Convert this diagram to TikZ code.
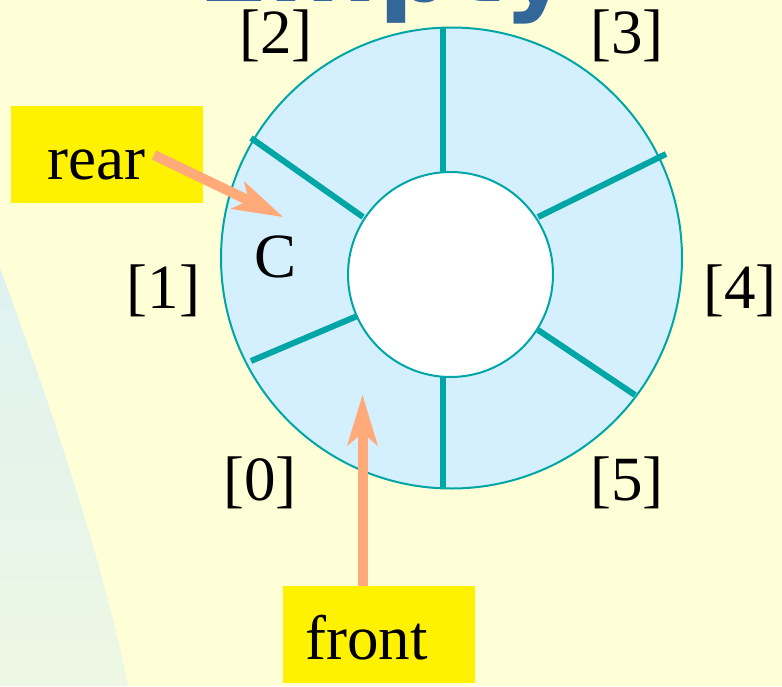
\documentclass[tikz,border=0pt]{standalone}
\usepackage{fontspec}
\setmainfont{Liberation Serif}
\newfontfamily\titlefont{DejaVu Sans}
\usetikzlibrary{arrows.meta}
\definecolor{bgyellow}{HTML}{FFFFD7}
\definecolor{leftA}{HTML}{DFF2F1}
\definecolor{leftB}{HTML}{EDF7E3}
\definecolor{ringfill}{HTML}{D4F0FF}
\definecolor{ringteal}{HTML}{00A6A6}
\definecolor{salmon}{HTML}{FFAA78}
\definecolor{titleblue}{HTML}{336699}
\begin{document}
\begin{tikzpicture}[x=1pt,y=-1pt,
  lbl/.style={font=\fontsize{63}{70}\selectfont, inner sep=0pt, anchor=base},
  spoke/.style={draw=ringteal, line width=6pt},
  ybox/.style={fill=yellow, inner sep=0pt, anchor=north west, minimum width=192pt, minimum height=97pt},
  ptr/.style={draw=salmon, line width=10pt, -{Stealth[length=51pt,width=31pt,inset=13pt,line width=0pt,fill=salmon]}}]
\useasboundingbox (0,0) rectangle (782,686);
\clip (0,0) rectangle (782,686);
\fill[bgyellow] (0,0) rectangle (782,686);
\shade[top color=leftA, bottom color=leftB] (0,268) .. controls (64.4,442.7) and (107.1,581.3) .. (128,686) -- (0,686) -- cycle;
\node[font=\titlefont\bfseries\fontsize{105}{120}\selectfont, text=titleblue, inner sep=0pt, outer sep=0pt, anchor=base west] (title) at (197,1.5) {Empty};
% ring
\node[circle, draw=ringteal, line width=2pt, fill=ringfill, minimum size=461pt, inner sep=0pt] (ring) at (451.5,258) {};
\draw[spoke] (443,27) -- (443,172);
\draw[spoke] (538,217) -- (666,154);
\draw[spoke] (538,330) -- (635,395);
\draw[spoke] (443,377) -- (443,489);
\draw[spoke] (362,314) -- (251,361);
\draw[spoke] (363,217) -- (251,138);
\node[circle, draw=ringteal, line width=2pt, fill=white, minimum size=205pt, inner sep=0pt] (hub) at (450.5,274.5) {};
% index labels
\node[lbl] (i0) at (260,500) {[0]};
\node[lbl] (i1) at (163.5,308) {[1]};
\node[lbl] (i2) at (276,53) {[2]};
\node[lbl] (i3) at (627,53) {[3]};
\node[lbl] (i4) at (740,308) {[4]};
\node[lbl] (i5) at (627,500) {[5]};
\node[lbl] (cval) at (275.5,277) {C};
% pointer boxes
\node[ybox] (rearbox) at (11,106) {};
\node[lbl, anchor=base west] (reartext) at (47,179) {rear};
\node[ybox] (frontbox) at (283,586) {};
\node[lbl, anchor=base west] (fronttext) at (305,659) {front};
% arrows
\coordinate (rearfrom) at (154,155);
\coordinate (rearto) at (283,217);
\draw[ptr] (rearfrom) -- (rearto);
\coordinate (frontfrom) at (362.5,586);
\coordinate (frontto) at (362.5,395);
\draw[ptr] (frontfrom) -- (frontto);
\end{tikzpicture}
\end{document}
